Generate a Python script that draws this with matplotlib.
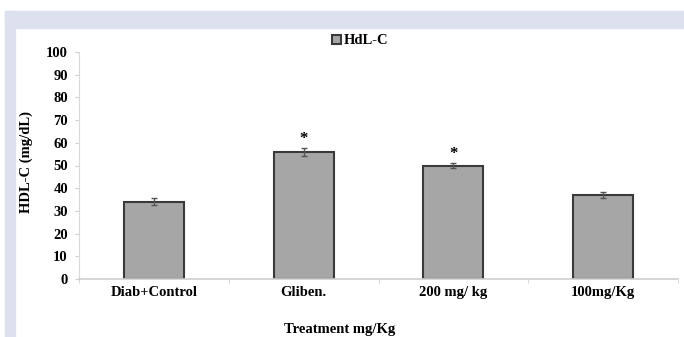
import matplotlib
matplotlib.use("Agg")
import matplotlib.pyplot as plt
from matplotlib.patches import Rectangle
import numpy as np

categories = ["Diab+Control", "Gliben.", "200 mg/ kg", "100mg/Kg"]
values = [34, 56, 50, 37]
errors = [1.5, 1.8, 1.2, 1.2]
significant = [False, True, True, False]
yticks = [0, 10, 20, 30, 40, 50, 60, 70, 80, 90, 100]

plt.rcParams['font.family'] = ['Liberation Serif', 'DejaVu Serif']
plt.rcParams['font.weight'] = 'bold'

fs = 10.5
fig = plt.figure(figsize=(6.84, 3.37), dpi=100)
fig.patch.set_facecolor('white')
band = '#dde1ee'
fig.patches.append(Rectangle((5/684, 0), 10/684, 1 - 11/337, transform=fig.transFigure, color=band, zorder=0))
fig.patches.append(Rectangle((5/684, 1 - 28/337), 1 - 5/684, 17/337, transform=fig.transFigure, color=band, zorder=0))

ax = fig.add_axes([79/684, 1 - 279/337, (678 - 79)/684, (279 - 52)/337])
x = np.arange(len(categories))
ax.bar(x, values, width=0.4, color='#a6a6a6', edgecolor='#3a3a3a', linewidth=1.5,
       label='HdL-C', zorder=2)
ax.errorbar(x, values, yerr=errors, fmt='none', ecolor='#555555', elinewidth=1, capsize=2.5, zorder=3)
for xi, v, e, s in zip(x, values, errors, significant):
    if s:
        ax.text(xi, v + e + 3.8, '*', ha='center', va='center', fontsize=12, fontweight='bold')

ax.set_xlim(-0.5, len(categories) - 0.5)
ax.set_ylim(0, 100)
ax.set_yticks(yticks)
ax.set_xticks(x)
ax.set_xticklabels(categories, fontsize=fs, fontweight='bold')
ax.set_xticks(np.arange(len(categories) + 1) - 0.5, minor=True)
ax.tick_params(axis='x', which='major', length=0, pad=5)
ax.tick_params(axis='x', which='minor', length=3, color='#d0d0d0')
ax.tick_params(axis='y', length=3, color='#d0d0d0', labelsize=fs, pad=5)
for lab in ax.get_yticklabels():
    lab.set_fontweight('bold')
for sp in ['top', 'right']:
    ax.spines[sp].set_visible(False)
ax.spines['left'].set_color('#d9d9d9')
ax.spines['bottom'].set_color('#d0d0d0')
ax.spines['bottom'].set_linewidth(1.2)

fig.text(26/684, 1 - 162/337, 'HDL-C (mg/dL)', rotation=90, ha='center', va='center',
         fontsize=fs, fontweight='bold')
fig.text(340/684, 1 - 330/337, 'Treatment mg/Kg', ha='center', va='center', fontsize=fs, fontweight='bold')

leg = ax.legend(loc='upper center', bbox_to_anchor=(0.47, 1.11), frameon=False, fontsize=fs,
                handlelength=0.6, handleheight=0.6, handletextpad=0.2, borderpad=0)
for t in leg.get_texts():
    t.set_fontweight('bold')

fig.savefig('out.png', dpi=100, facecolor='white')
